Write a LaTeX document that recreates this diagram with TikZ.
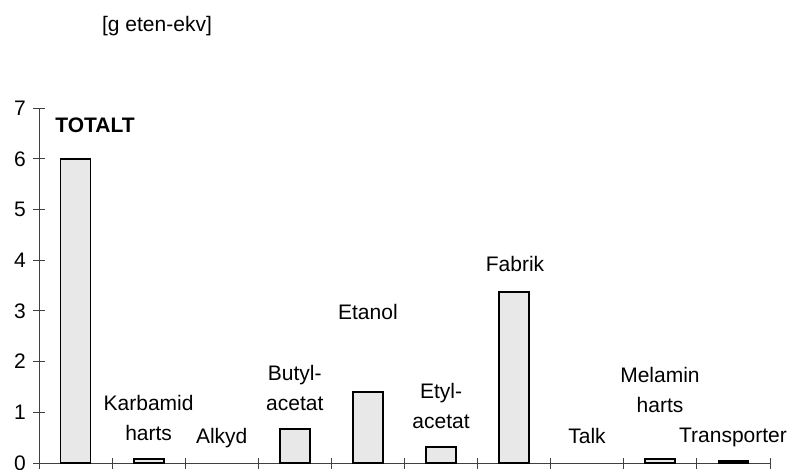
\documentclass[tikz,border=0pt]{standalone}
\usepackage{fontspec}
\setmainfont{Liberation Sans}
\definecolor{barfill}{HTML}{E8E8E8}
\definecolor{axisgray}{HTML}{404040}
\tikzset{
  axisline/.style={draw=axisgray, line width=0.9pt},
  barbox/.style={draw=black, line width=1.8pt, fill=barfill},
  lab/.style={anchor=base, inner sep=0pt, align=center, font=\fontsize{21}{30}\selectfont},
}
\begin{document}
\begin{tikzpicture}[x=1pt,y=1pt]
    \useasboundingbox (-39,-6) rectangle (753,463);
    % unit label
    \node[lab] (unit) at (118,431) {[g eten-ekv]};
    \begin{scope}[x=73.1pt,y=50.7pt]
        % axes
        \draw[axisline] ([yshift=-6pt]0,0) -- (0,7);
        \draw[axisline] (0,0) -- (10,0);
        % y ticks and numbers
        \foreach \k in {0,...,7} {
            \draw[axisline] ([xshift=-6pt]0,\k) -- ([xshift=6pt]0,\k);
            \node[lab, anchor=east] (tick\k) at ([xshift=-13pt]0,\k) {\k};
        }
        % x ticks
        \foreach \i in {1,...,10}
            \draw[axisline] ([yshift=-6pt]\i,0) -- ([yshift=5pt]\i,0);
        % bars
        \foreach \i/\v in {0/6.0, 1/0.08, 3/0.67, 4/1.40, 5/0.32, 6/3.37, 8/0.08, 9/0.04}
            \draw[barbox] ([xshift=-15pt]\i+0.5,0) rectangle ([xshift=15pt]\i+0.5,\v);
    \end{scope}
    % bar labels
    \node[lab, font=\fontsize{21}{30}\selectfont\bfseries] (totalt) at (56,330) {TOTALT};
    \node[lab] (karbamid) at (109.6,23) {Karbamid\\harts};
    \node[lab] (alkyd) at (182.7,20) {Alkyd};
    \node[lab] (butyl) at (255.8,53) {Butyl-\\acetat};
    \node[lab] (etanol) at (328.9,144) {Etanol};
    \node[lab] (etyl) at (402,35) {Etyl-\\acetat};
    \node[lab] (fabrik) at (476,191) {Fabrik};
    \node[lab] (talk) at (548,20) {Talk};
    \node[lab] (melamin) at (621,51) {Melamin\\harts};
    \node[lab] (transp) at (694,21) {Transporter};
\end{tikzpicture}
\end{document}
